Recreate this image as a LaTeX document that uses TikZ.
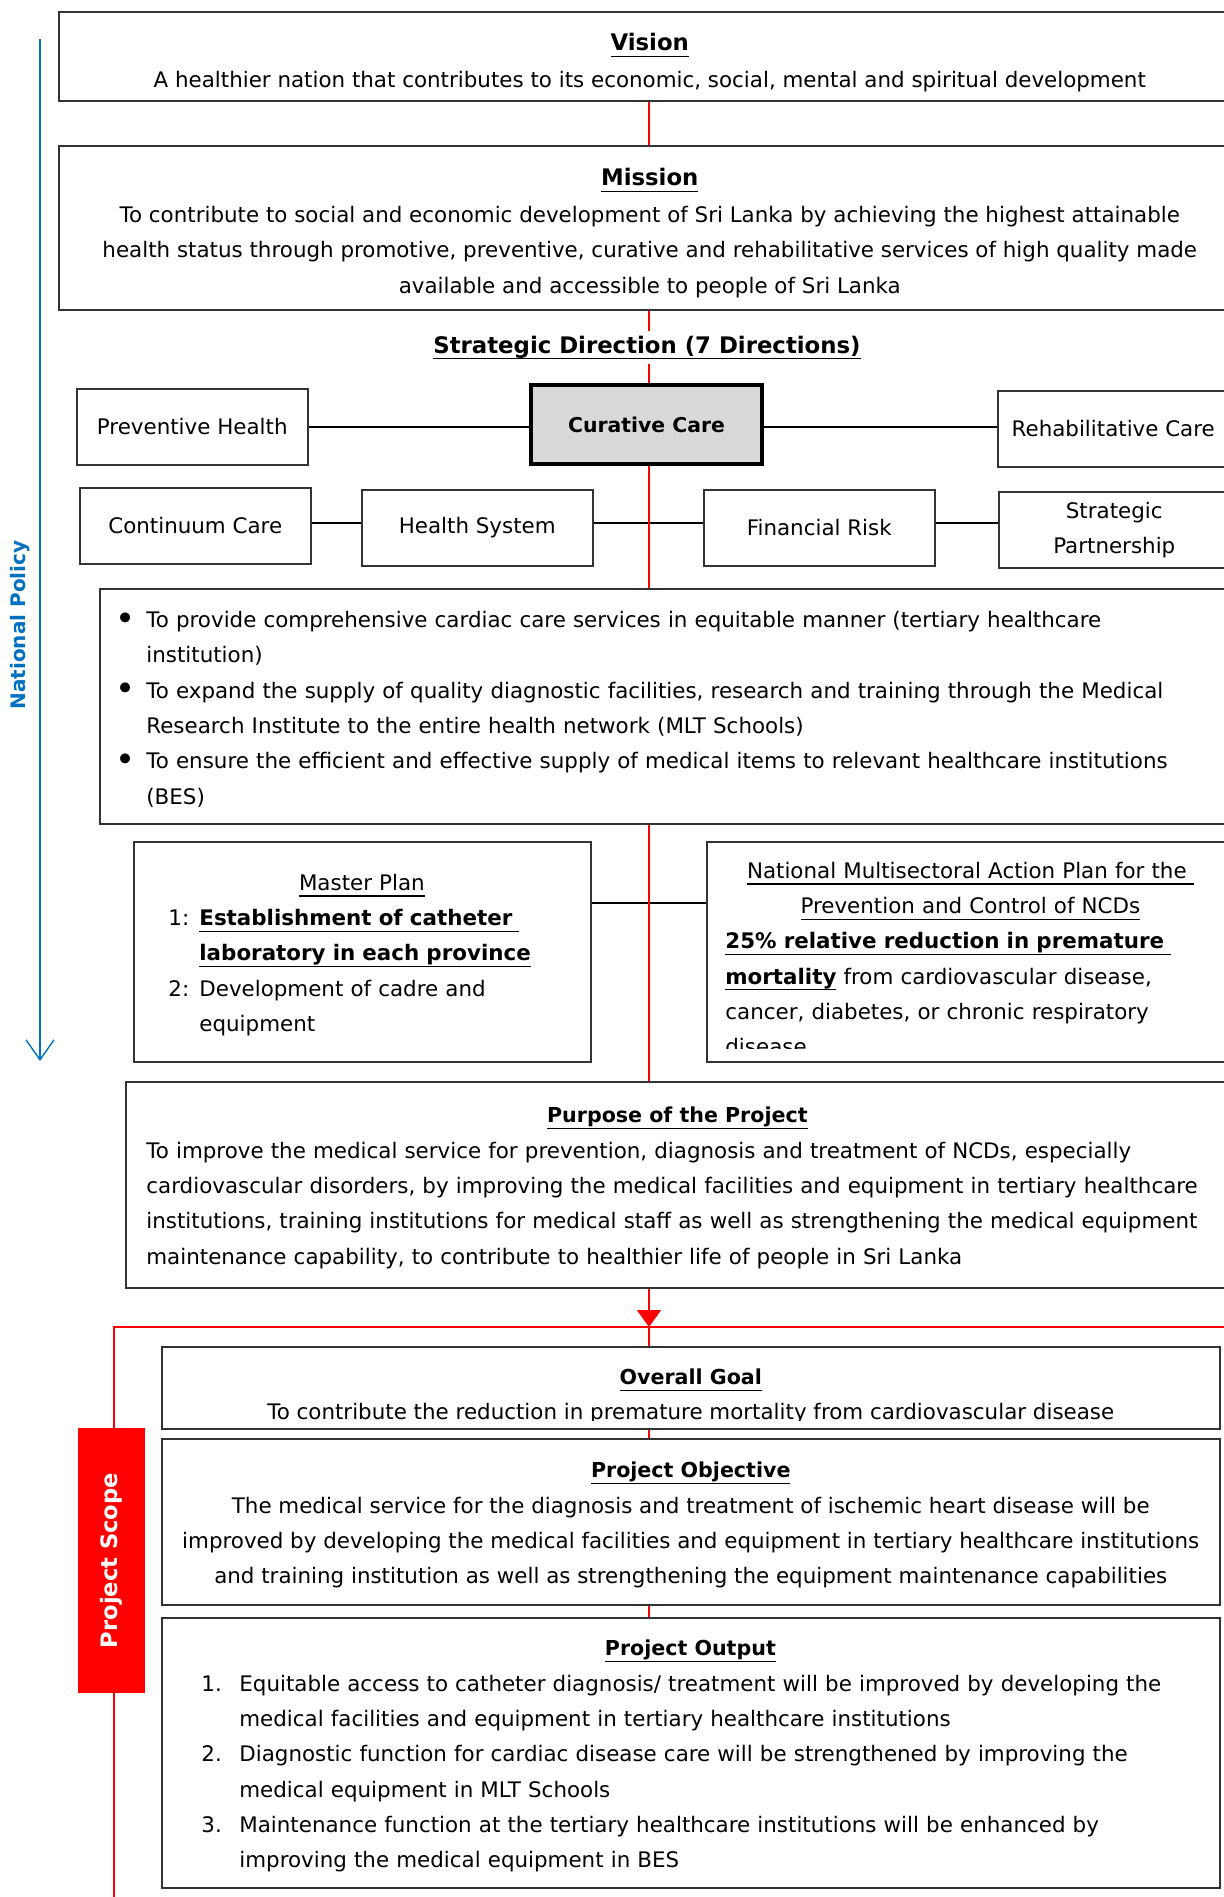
\documentclass[tikz,border=0pt]{standalone}
\usepackage{fontspec}
\setmainfont{DejaVu Sans}
\usetikzlibrary{positioning, arrows.meta, backgrounds}
\definecolor{PolicyBlue}{RGB}{0,112,192}
\definecolor{ScopeRed}{RGB}{255,0,0}
\definecolor{CurativeGray}{RGB}{217,217,217}
\definecolor{FrameGray}{RGB}{51,51,51}
\newsavebox{\undlbox}
\newcommand{\undl}[1]{\leavevmode\sbox\undlbox{#1}\rlap{\rule[-3.2pt]{\wd\undlbox}{0.6pt}}\usebox\undlbox}
\newcommand{\bodysize}{\fontsize{10.7}{17.65}\selectfont}
\newcommand{\topheadsize}{\fontsize{11.4}{17.85}\selectfont}
\newcommand{\headsize}{\fontsize{10.3}{17.65}\selectfont}
\newcommand{\toptitle}[1]{{\topheadsize\bfseries\undl{#1}}}
\newcommand{\boxtitle}[1]{{\headsize\bfseries\undl{#1}}}
\newcommand{\aimbullet}{\makebox[15.5pt][l]{\raisebox{-1.2pt}{\fontsize{17}{17}\selectfont\textbullet}}}
\newcommand{\aimgap}{\hspace*{15.5pt}}
\newcommand{\plannum}[1]{\makebox[15.5pt][l]{#1}}
\newcommand{\outnum}[1]{\makebox[19pt][l]{#1}}
\newcommand{\outgap}{\hspace*{19pt}}

\begin{document}
\begin{tikzpicture}[x=0.5pt, y=-0.5pt, font=\bodysize,
    panel/.style={draw=FrameGray, line width=0.75pt, fill=white, anchor=north west, inner sep=0pt},
    dirbox/.style={panel, minimum width=115.5pt, minimum height=38pt, align=center},
    boxtext/.style={inner sep=0pt},
    link/.style={draw=black, line width=0.7pt},
    spine/.style={draw=ScopeRed, line width=1pt},
    scopeline/.style={draw=ScopeRed, line width=0.7pt},
    policyline/.style={draw=PolicyBlue, line width=0.7pt, -{Straight Barb[length=10pt, width=14pt]}}]
  \useasboundingbox (0,0) rectangle (1223,1897);

  % national policy arrow
  \coordinate (policytop) at (40,39);
  \coordinate (policyend) at (40,1061);
  \draw[policyline] (policytop) -- (policyend);
  \node[rotate=90, text=PolicyBlue, font=\fontsize{10}{12}\selectfont\bfseries] (policy) at (20,625) {National Policy};

  % vision and mission
  \node[panel, minimum width=591pt, minimum height=44.5pt] (vision) at (58,11) {};
  \node[boxtext, below=11pt of vision.north, align=center] (visiontext)
    {\toptitle{Vision}\\[0.6pt]A healthier nation that contributes to its economic, social, mental and spiritual development};
  \node[panel, minimum width=591pt, minimum height=82pt] (mission) at (58,145) {};
  \node[boxtext, below=11.6pt of mission.north, align=center] (missiontext)
    {\toptitle{Mission}\\[0.6pt]To contribute to social and economic development of Sri Lanka by achieving the highest attainable\\health status through promotive, preventive, curative and rehabilitative services of high quality made\\available and accessible to people of Sri Lanka};

  % strategic directions
  \coordinate (spinex) at (649,0);
  \coordinate (rowone) at (649,427);
  \coordinate (rowtwo) at (649,523);
  \node[fill=white, inner xsep=2pt, inner ysep=2.5pt, anchor=base, font=\topheadsize\bfseries] (sdtitle) at (647,353) {\undl{Strategic Direction (7 Directions)}};
  \node[dirbox] (preventive) at (76,388) {Preventive Health};
  \node[dirbox, fill=CurativeGray, draw=black, line width=2pt, minimum height=39.5pt, font=\fontsize{10.2}{12}\selectfont\bfseries] (curative) at (529,383) {Curative Care};
  \node[dirbox] (rehab) at (997,390) {Rehabilitative Care};
  \node[dirbox] (continuum) at (79,487) {Continuum Care};
  \node[dirbox] (healthsys) at (361,489) {Health System};
  \node[dirbox] (finrisk) at (703,489) {Financial Risk};
  \node[dirbox] (partner) at (998,491) {Strategic\\Partnership};

  % aims
  \node[panel, minimum width=570.5pt, minimum height=117.5pt] (aims) at (99,588) {};
  \node[boxtext, below right=11.5pt and 8pt of aims.north west, align=left, text width=560pt] (aimstext)
    {\aimbullet To provide comprehensive cardiac care services in equitable manner (tertiary healthcare\\
     \aimgap institution)\\
     \aimbullet To expand the supply of quality diagnostic facilities, research and training through the Medical\\
     \aimgap Research Institute to the entire health network (MLT Schools)\\
     \aimbullet To ensure the efficient and effective supply of medical items to relevant healthcare institutions\\
     \aimgap (BES)};

  % plans
  \coordinate (planlink) at (649,903);
  \node[panel, minimum width=228.5pt, minimum height=110pt] (masterplan) at (133,841) {};
  \node[boxtext, below right=16.25pt and 17.5pt of masterplan.north west, align=left, text width=193.5pt] (mastertext)
    {\makebox[193.5pt]{\undl{Master Plan}}\\
     \plannum{1:}\undl{\textbf{Establishment of catheter }}\\
     \hspace*{15.5pt}\undl{\textbf{laboratory in each province}}\\
     \plannum{2:}Development of cadre and\\
     \hspace*{15.5pt}equipment};
  \node[panel, minimum width=264pt, minimum height=110pt] (ncdplan) at (706,841) {};
  \begin{scope}
    \clip (ncdplan.north west) rectangle ([yshift=7pt]ncdplan.south east);
    \node[boxtext, below right=10.25pt and 9.5pt of ncdplan.north west, align=left, text width=245pt] (ncdtext)
      {\makebox[245pt]{\undl{National Multisectoral Action Plan for the }}\\
       \makebox[245pt]{\undl{Prevention and Control of NCDs}}\\
       \undl{\textbf{25\% relative reduction in premature }}\\
       \undl{\textbf{mortality}} from cardiovascular disease,\\
       cancer, diabetes, or chronic respiratory\\
       disease};
  \end{scope}

  % purpose
  \node[panel, minimum width=552pt, minimum height=103pt] (purpose) at (125,1081) {};
  \node[boxtext, below right=12.95pt and 10.5pt of purpose.north west, align=left, text width=560pt] (purposetext)
    {\makebox[531pt]{\boxtitle{Purpose of the Project}}\\
     To improve the medical service for prevention, diagnosis and treatment of NCDs, especially\\
     cardiovascular disorders, by improving the medical facilities and equipment in tertiary healthcare\\
     institutions, training institutions for medical staff as well as strengthening the medical equipment\\
     maintenance capability, to contribute to healthier life of people in Sri Lanka};

  % project scope
  \coordinate (frametop) at (114,1327);
  \draw[scopeline] (1240,1327) -- (frametop) -- (114,1900);
  \node[fill=ScopeRed, text=white, rotate=90, minimum width=132.5pt, minimum height=33.5pt, inner sep=0pt, font=\fontsize{11.3}{13}\selectfont\bfseries] (scopelabel) at (111.5,1560.5) {Project Scope};

  \node[panel, minimum width=529pt, minimum height=41pt] (goal) at (161,1346) {};
  \begin{scope}
    \clip (goal.north west) rectangle ([yshift=4.75pt]goal.south east);
    \node[boxtext, below=11.2pt of goal.north, align=center] (goaltext)
      {\boxtitle{Overall Goal}\\To contribute the reduction in premature mortality from cardiovascular disease};
  \end{scope}
  \node[panel, minimum width=529pt, minimum height=83pt] (objective) at (161,1438) {};
  \node[boxtext, below=11.95pt of objective.north, align=center] (objectivetext)
    {\boxtitle{Project Objective}\\
     The medical service for the diagnosis and treatment of ischemic heart disease will be\\
     improved by developing the medical facilities and equipment in tertiary healthcare institutions\\
     and training institution as well as strengthening the equipment maintenance capabilities};
  \node[panel, minimum width=529pt, minimum height=135pt] (output) at (161,1617) {};
  \node[boxtext, below right=11.45pt and 20pt of output.north west, align=left, text width=489pt] (outputtext)
    {\makebox[489pt]{\boxtitle{Project Output}}\\
     \outnum{1.}Equitable access to catheter diagnosis/ treatment will be improved by developing the\\
     \outgap medical facilities and equipment in tertiary healthcare institutions\\
     \outnum{2.}Diagnostic function for cardiac disease care will be strengthened by improving the\\
     \outgap medical equipment in MLT Schools\\
     \outnum{3.}Maintenance function at the tertiary healthcare institutions will be enhanced by\\
     \outgap improving the medical equipment in BES};

  % connectors
  \begin{scope}[on background layer]
    \draw[link] (preventive.east |- rowone) -- (curative.west |- rowone);
    \draw[link] (curative.east |- rowone) -- (rehab.west |- rowone);
    \draw[link] (continuum.east |- rowtwo) -- (healthsys.west |- rowtwo);
    \draw[link] (healthsys.east |- rowtwo) -- (finrisk.west |- rowtwo);
    \draw[link] (finrisk.east |- rowtwo) -- (partner.west |- rowtwo);
    \draw[link] (masterplan.east |- planlink) -- (ncdplan.west |- planlink);
    \draw[spine] (vision.south -| spinex) -- (mission.north -| spinex);
    \draw[spine] (mission.south -| spinex) -- (curative.north -| spinex);
    \draw[spine] (curative.south -| spinex) -- (aims.north -| spinex);
    \draw[spine] (aims.south -| spinex) -- (purpose.north -| spinex);
  \end{scope}
  \draw[spine, -{Triangle[length=8.5pt, width=12pt]}] (purpose.south -| spinex) -- (frametop -| spinex);
  \draw[spine] (frametop -| spinex) -- (goal.north -| spinex);
  \draw[spine] (goal.south -| spinex) -- (objective.north -| spinex);
  \draw[spine] (objective.south -| spinex) -- (output.north -| spinex);
\end{tikzpicture}
\end{document}
